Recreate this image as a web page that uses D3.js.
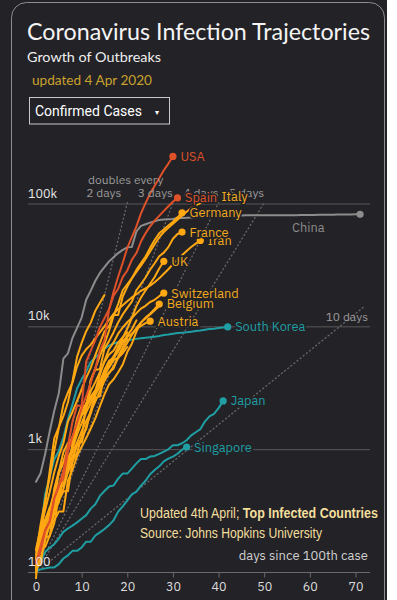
<!DOCTYPE html>
<html><head><meta charset="utf-8">
<script src="https://cdn.jsdelivr.net/npm/d3@7"></script>
<style>
html,body{margin:0;padding:0;background:#232227;}
svg{display:block;}
</style></head><body>
<svg id="c" width="397" height="600"></svg>
<script>
// ---- data: confirmed cases, day 0 = first day with ~100 cases ----
const usa = [118,149,217,262,402,518,583,959,1281,1663,2179,2727,3499,4632,6421,7783,13747,19273,25600,33276,43847,53740,65778,83836,101657,121478,140886,161807,188172,213372,243762];
const spain = [120,165,222,259,400,500,673,1073,1695,2277,2277,5232,6391,7798,9942,11748,13910,17963,20410,25374,28768,35136,39885,49515,57786,65719,73235,80110,87956,95923,104118,112065];
const italy = [155,229,322,453,655,888,1128,1694,2036,2502,3089,3858,4636,5883,7375,9172,10149,12462,12462,17660,21157,24747,27980,31506,35713,41035,47021,53578,59138,63927,69176,74386,80589,86498,92472,97689,101739,105792,110574,115242];
const germany = [130,159,196,262,482,670,799,1040,1176,1457,1908,2078,3675,4585,5795,7272,9257,12327,15320,19848,22213,24873,29056,32986,37323,43938,50871,57695,62095,66885,71808,77872,84794];
const france = [130,191,204,288,380,656,957,1134,1217,1792,2289,2289,3672,4480,4513,6650,7652,9043,10871,12612,14282,16018,19856,22304,25233,29155,32964,37575,40174,44550,52128,56989,59105];
const iran = [139,245,388,593,978,1501,2336,2922,3513,4747,5823,6566,7161,8042,9000,10075,11364,12729,13938,14991,16169,17361,18407,19644,20610,21638,23049,24811,27017,29406,32332,35408,38309,41495,44605,47593,50468];
const uk = [116,164,207,274,322,384,459,459,802,1144,1145,1551,1960,2642,2716,4014,5067,5745,6726,8164,9640,11812,14745,17312,19780,22453,25481,29865,34173];
const switzerland = [90,214,268,337,374,491,652,652,1139,1359,2200,2200,2700,3028,4075,5294,6575,7474,8795,9877,10897,11811,12928,14076,14829,15922,16605,17768,18827];
const belgium = [109,169,200,239,267,314,314,559,689,886,1058,1243,1486,1795,2257,2815,3401,3743,4269,4937,6235,7284,9134,10836,11899,12775,13964,15348];
const austria = [104,131,182,246,302,504,655,860,1018,1332,1646,2013,2388,2814,3582,4474,5283,5588,6909,7657,8271,8788,9618,10180,10711,11129];
const netherlands = [128,188,265,321,382,503,503,804,959,1135,1413,1705,2051,2460,2994,3631,4204,4749,5560,6412,7431,8603,9762,10866,11750,12595,13614,14697];
const turkey = [98,191,359,670,1236,1529,1872,2433,3629,5698,7402,9217,10827,13531,15679,18135];
const canada = [108,117,193,198,252,415,478,657,800,943,1277,1469,2088,2790,3251,4042,4682,5576,6280,7398,8527,9560,11284];
const portugal = [112,169,245,331,448,642,785,1020,1280,1600,2060,2362,2995,3544,4268,5170,5962,6408,7443,8251,9034];
const brazil = [151,151,162,200,321,372,621,793,1021,1546,1924,2247,2554,2985,3417,3904,4256,4579,5717,6836,8044];
const israel = [126,193,213,298,337,433,677,705,883,1071,1238,2369,2693,3035,3619,4247,4695,5358,5591,6092,6857];
const china = [548,643,920,1406,2075,2877,5509,6087,8141,9802,11891,16630,19716,23707,27440,30587,34110,36814,39829,42354,44386,44759,59895,66358,68413,70513,72434,74211,74619,75077,75550,77001,77022,77241,77754,78166,78600,78928,79356,79932,80136,80261,80386,80537,80690,80770,80823,80860,80887,80921,80932,80945,80977,81003,81033,81058,81102,81156,81250,81305,81435,81498,81591,81661,81782,81897,81999,82122,82198,82279,82361,82432];
const southKorea = [104,204,433,602,833,977,1261,1766,2337,3150,3736,4335,5186,5621,6088,6593,7041,7314,7478,7513,7755,7869,7979,8086,8162,8236,8320,8413,8565,8652,8799,8897,8961,9037,9137,9241,9332,9478,9583,9661,9786,9887,9976];
const japan = [105,122,147,159,170,189,214,228,241,256,274,293,331,360,420,461,502,511,581,639,639,701,773,839,839,878,889,924,963,1007,1086,1086,1128,1193,1307,1387,1468,1693,1866,1953,2178,2495];
const singapore = [102,106,108,110,110,117,130,138,150,150,160,178,178,200,212,226,243,266,313,345,385,432,455,509,558,631,683,732,802,844,879,926,1000,1049];

// series: [name, values, group, labelled]
const seriesList = [
  ["China", china, "gray", false],
  ["Singapore", singapore, "teal", true],
  ["Japan", japan, "teal", true],
  ["South Korea", southKorea, "teal", true],
  ["Israel", israel, "orange", false],
  ["Brazil", brazil, "orange", false],
  ["Portugal", portugal, "orange", false],
  ["Canada", canada, "orange", false],
  ["Turkey", turkey, "orange", false],
  ["Netherlands", netherlands, "orange", false],
  ["Austria", austria, "orange", true],
  ["Belgium", belgium, "orange", true],
  ["Switzerland", switzerland, "orange", true],
  ["UK", uk, "orange", true],
  ["Iran", iran, "orange", true],
  ["France", france, "orange", true],
  ["Germany", germany, "orange", true],
  ["Italy", italy, "orange", true],
  ["Spain", spain, "red", true],
  ["USA", usa, "red", true]
];
const xTicks = [0,10,20,30,40,50,60,70];
const yTicks = [100,1000,10000,100000];
const yTickLabels = ["100","1k","10k","100k"];
const doublingDays = [2,3,4,5,10];
const doublingEndDay = [20,30,40,50,72];
const doublingLabels = ["2 days","3 days","4 days","5 days","10 days"];

// ---- styles ----
const BG = "#232227";
const colors = {gray:"#8c8c8c", teal:"#1f9ea3", orange:"#ffa812", red:"#df5128"};
const labelColors = {gray:"#8c8c8c", teal:"#1f9ea3", orange:"#f2aa1e", red:"#df5128"};
const FONT = "'IBM Plex Sans','Noto Sans','Open Sans',sans-serif";

const svg = d3.select("#c");
svg.append("rect").attr("width",397).attr("height",600).attr("fill",BG);
svg.append("rect").attr("x",11.5).attr("y",2.5).attr("width",373).attr("height",660)
  .attr("rx",15).attr("fill","none").attr("stroke","#8d8d8d").attr("stroke-width",1);
svg.append("rect").attr("x",387).attr("y",0).attr("width",10).attr("height",600).attr("fill","#ffffff");

// header
svg.append("text").attr("x",27).attr("y",40).text("Coronavirus Infection Trajectories")
  .attr("font-family","Lato,'Noto Sans',sans-serif").attr("font-size",23).attr("fill","#f4f4f4")
  .attr("textLength",343).attr("lengthAdjust","spacingAndGlyphs");
svg.append("text").attr("x",27).attr("y",62).text("Growth of Outbreaks")
  .attr("font-family","Lato,'Noto Sans',sans-serif").attr("font-size",14).attr("fill","#eeeeee")
  .attr("textLength",134).attr("lengthAdjust","spacingAndGlyphs");
svg.append("text").attr("x",32).attr("y",85).text("updated 4 Apr 2020")
  .attr("font-family","Lato,'Noto Sans',sans-serif").attr("font-size",12.5).attr("fill","#c9a12e")
  .attr("textLength",120).attr("lengthAdjust","spacingAndGlyphs");
svg.append("rect").attr("x",29.5).attr("y",97.5).attr("width",140).attr("height",26.5)
  .attr("fill","none").attr("stroke","#c8c8c8");
svg.append("text").attr("x",35).attr("y",116).text("Confirmed Cases")
  .attr("font-family","Roboto,'Noto Sans',sans-serif").attr("font-size",14).attr("fill","#ffffff")
  .attr("textLength",107).attr("lengthAdjust","spacingAndGlyphs");
svg.append("text").attr("x",155).attr("y",115).text("▾")
  .attr("font-family","'DejaVu Sans',sans-serif").attr("font-size",8).attr("fill","#ffffff");

// scales
const x = d3.scaleLinear().domain([0,70]).range([36,355.5]);
const y = d3.scaleLog().domain([100,100000]).range([572.5,204]);

const g = svg.append("g");

// doubling reference lines
doublingDays.forEach((p,i)=>{
  const e = doublingEndDay[i];
  const pts = [[0,100],[e,100*Math.pow(2,e/p)]];
  g.append("path").attr("d", d3.line().x(d=>x(d[0])).y(d=>y(d[1]))(pts))
    .attr("fill","none").attr("stroke","#68686c").attr("stroke-width",1.3)
    .attr("stroke-dasharray","1,3").attr("stroke-linecap","round");
});

// gridlines
yTicks.forEach((v,i)=>{
  g.append("line").attr("x1",28).attr("x2",370).attr("y1",y(v)).attr("y2",y(v))
    .attr("stroke", v===100 ? "#6a6a6a" : "#58585c").attr("stroke-width",1);
});

// x axis ticks
const xAxis = d3.axisBottom(x).tickValues(xTicks).tickSize(5).tickPadding(5);
const ax = g.append("g").attr("transform",`translate(0,${y(100)})`).call(xAxis);
ax.select(".domain").remove();
ax.selectAll(".tick line").attr("stroke","#6a6a6a");
ax.selectAll(".tick text").attr("fill","#dddddd").attr("font-size",12.5).attr("font-family",FONT);

// series lines
const line = d3.line().x((d,i)=>x(i)).y(d=>y(d)).curve(d3.curveLinear);
seriesList.forEach(([name, vals, grp])=>{
  g.append("path").attr("d", line(vals)).attr("fill","none")
    .attr("stroke", colors[grp]).attr("stroke-width", 2)
    .attr("stroke-linejoin","round").attr("stroke-linecap","round");
});

// end dots
seriesList.forEach(([name, vals, grp, lab])=>{
  if (!lab && name!=="China") return;
  const n = vals.length-1;
  g.append("circle").attr("cx",x(n)).attr("cy",y(vals[n])).attr("r",3.6).attr("fill",colors[grp]);
});

// y labels
yTicks.forEach((v,i)=>{
  g.append("text").attr("x",28).attr("y",y(v)-6.5).text(yTickLabels[i])
    .attr("font-family",FONT).attr("font-size",12.5).attr("fill","#e6e6e6");
});

// doubling labels
g.append("text").attr("x",88).attr("y",184).text("doubles every")
  .attr("font-family",FONT).attr("font-size",12).attr("fill","#9a9a9a");
doublingDays.forEach((p,i)=>{
  const e = doublingEndDay[i];
  const lx = p===10 ? 368 : x(e) - (p===2 ? 6 : 0);
  const ly = p===10 ? 321 : 197;
  g.append("text").attr("x",lx).attr("y",ly).attr("text-anchor","end").text(doublingLabels[i])
    .attr("font-family",FONT).attr("font-size",12).attr("fill","#9a9a9a");
});

// country labels
seriesList.forEach(([name, vals, grp, lab])=>{
  if (!lab) return;
  const n = vals.length-1;
  g.append("text").attr("x",x(n)+7.5).attr("y",y(vals[n])+4.5).text(name)
    .attr("font-family",FONT).attr("font-size",12.8).attr("fill",labelColors[grp])
    .attr("stroke",BG).attr("stroke-width",3.5).attr("paint-order","stroke");
});
g.append("text").attr("x",292).attr("y",232).text("China")
  .attr("font-family",FONT).attr("font-size",12.8).attr("fill","#8c8c8c");

// annotations
const note = g.append("text").attr("x",140).attr("y",518)
  .attr("font-family","'Liberation Sans Narrow','Arial Narrow','Liberation Sans',sans-serif")
  .attr("font-size",14).attr("fill","#f3df9c")
  .attr("textLength",238).attr("lengthAdjust","spacingAndGlyphs");
note.append("tspan").text("Updated 4th April; ");
note.append("tspan").attr("font-weight","bold").text("Top Infected Countries");
g.append("text").attr("x",140).attr("y",538).text("Source: Johns Hopkins University")
  .attr("font-family","'Liberation Sans Narrow','Arial Narrow','Liberation Sans',sans-serif")
  .attr("font-size",14).attr("fill","#f3df9c")
  .attr("textLength",182).attr("lengthAdjust","spacingAndGlyphs");
g.append("text").attr("x",368).attr("y",560).attr("text-anchor","end").text("days since 100th case")
  .attr("font-family",FONT).attr("font-size",13).attr("fill","#d0d0d0");
</script>
</body></html>
